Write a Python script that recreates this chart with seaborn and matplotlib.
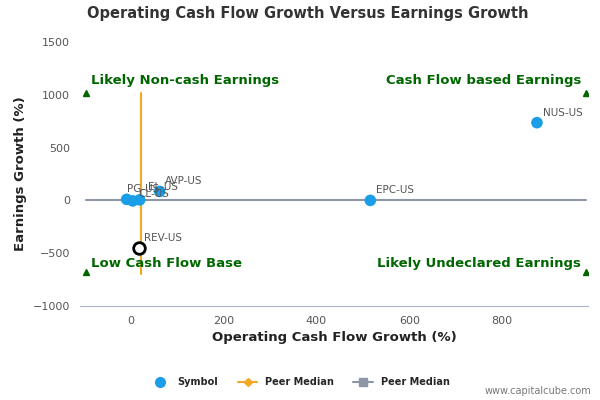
import matplotlib
matplotlib.use("Agg")
import matplotlib.pyplot as plt
import seaborn as sns
import pandas as pd
from matplotlib.lines import Line2D

symbols = ["NUS-US", "EPC-US", "AVP-US", "PG-US", "CL-US", "EL-US", "REV-US"]
cash_growth = [875, 516, 62, -9, 4, 19, 17]
earn_growth = [736, 0, 85, 10, -5, 5, -453]
median_x = 21
median_y = 0
df = pd.DataFrame({"sym": symbols, "x": cash_growth, "y": earn_growth})

sns.set_style("white")
fig, ax = plt.subplots(figsize=(6, 4), dpi=100)
fig.subplots_adjust(left=0.133, right=0.98, top=0.895, bottom=0.235)
xmin, xmax, ymin, ymax = -110, 985, -1000, 1500
ax.set_xlim(xmin, xmax); ax.set_ylim(ymin, ymax)

ax.plot([median_x, median_x], [-700, 1020], color="#f5a623", lw=1.5, zorder=2)
ax.plot([-97, 980], [median_y, median_y], color="#8c96a6", lw=1.5, zorder=2)

main = df[df.sym != "REV-US"]
sns.scatterplot(data=main, x="x", y="y", color="#1a9ee8", s=70, edgecolor="none", ax=ax, zorder=3)
rev = df[df.sym == "REV-US"]
ax.scatter(rev.x, rev.y, s=70, facecolor="white", edgecolor="black", linewidth=2, zorder=3)
offsets = {"PG-US": (0, 5), "CL-US": (4, 3), "EL-US": (6, 7)}
for s, x, y in zip(df.sym, df.x, df.y):
    ax.annotate(s, (x, y), xytext=offsets.get(s, (4, 5)), textcoords="offset points",
                fontsize=7.5, color="#555555")

g = "#006600"
for tx, ty in [(-97, 1020), (980, 1020), (-97, -680), (980, -680)]:
    ax.plot(tx, ty, marker="^", color=g, ms=5, zorder=4)
kw = dict(color=g, fontsize=9.5, fontweight="bold", va="bottom")
ax.text(-85, 1070, "Likely Non-cash Earnings", **kw)
ax.text(970, 1070, "Cash Flow based Earnings", ha="right", **kw)
ax.text(-85, -660, "Low Cash Flow Base", **kw)
ax.text(970, -660, "Likely Undeclared Earnings", ha="right", **kw)

ax.set_xticks([0, 200, 400, 600, 800]); ax.set_yticks([-1000, -500, 0, 500, 1000, 1500])
ax.tick_params(labelsize=8, colors="#555555")
ax.set_xlabel("Operating Cash Flow Growth (%)", fontsize=9.5, fontweight="bold", color="#222222")
ax.set_ylabel("Earnings Growth (%)", fontsize=9.5, fontweight="bold", color="#222222")
for sp in ["top", "right", "left"]:
    ax.spines[sp].set_visible(False)
ax.spines["bottom"].set_color("#aab4c8")
fig.suptitle("Operating Cash Flow Growth Versus Earnings Growth", fontsize=10.5, fontweight="bold",
             color="#333333", y=0.985, x=0.145, ha="left")

handles = [Line2D([], [], marker="o", color="#1a9ee8", ls="none", ms=7),
           Line2D([], [], marker="D", color="#f5a623", ms=4, lw=1.5),
           Line2D([], [], marker="s", color="#8c96a6", ms=6, lw=1.5)]
fig.legend(handles, ["Symbol", "Peer Median", "Peer Median"], loc="lower center", ncol=3,
           bbox_to_anchor=(0.5, 0.01), frameon=False, prop={"size": 7, "weight": "bold"})
fig.text(0.985, 0.015, "www.capitalcube.com", ha="right", fontsize=7, color="#777777")
fig.savefig("out.png")
